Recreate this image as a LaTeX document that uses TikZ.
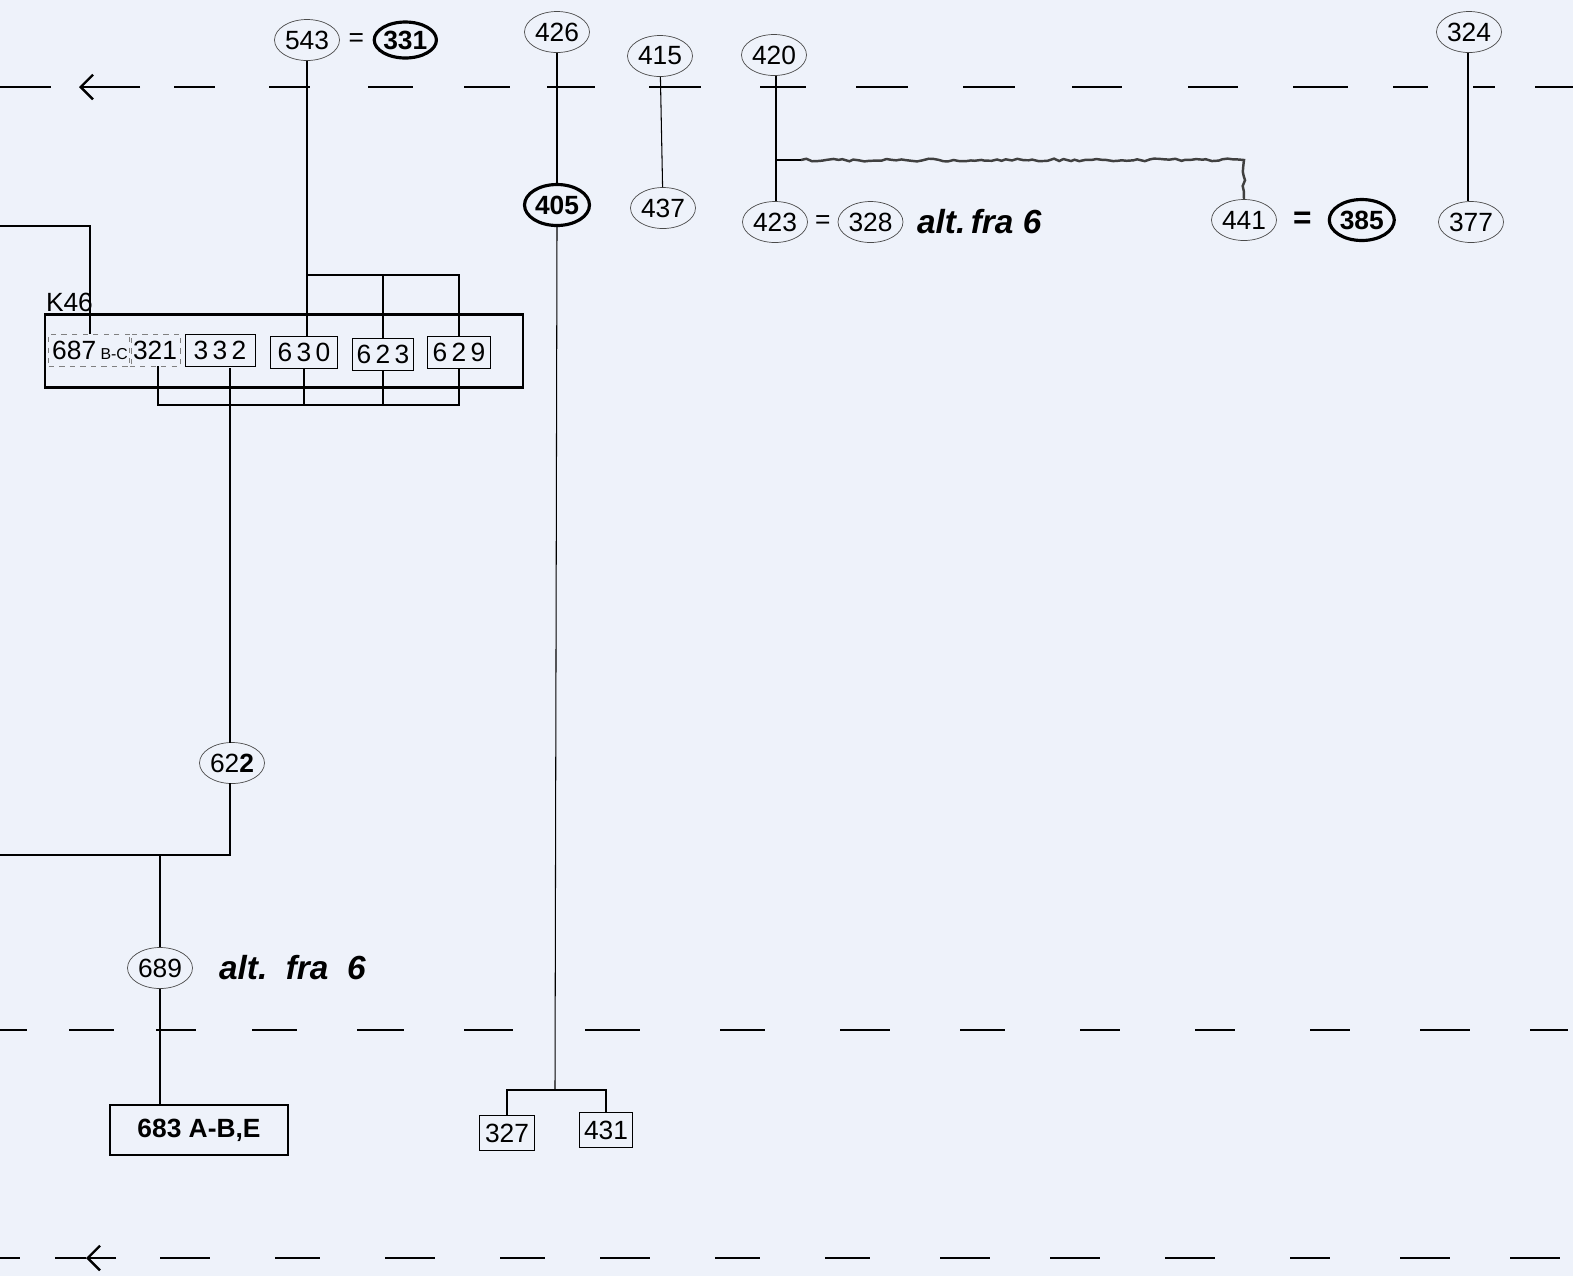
\documentclass[tikz,border=0pt]{standalone}
\usepackage{fontspec}
\setmainfont{Liberation Sans}
\usetikzlibrary{positioning, arrows.meta, shapes.geometric, decorations.pathmorphing}
\definecolor{paper}{HTML}{EEF2FA}
\definecolor{rimGrey}{HTML}{4a4a4a}

\tikzset{
  refnode/.style={draw=rimGrey, ellipse, minimum width=1.3cm, minimum height=0.82cm, inner sep=0pt},
  refbold/.style={refnode, draw=black, line width=1.8pt, font=\fontsize{15}{18}\selectfont\bfseries},
  partbox/.style={draw, rectangle, minimum height=0.64cm, inner sep=2pt},
  wire/.style={line width=0.6pt},
  dashbar/.style={line width=1.4pt},
  scribble/.style={line width=1.4pt, black!75, decorate, decoration={random steps, segment length=3pt, amplitude=0.8pt}},
  note/.style={font=\fontsize{19}{20}\selectfont\bfseries\itshape},
}

\begin{document}
\begin{tikzpicture}[x=0.02cm, y=-0.02cm, font=\fontsize{15}{18}\selectfont]
\fill[paper] (0,0) rectangle (1573,1276);
\useasboundingbox (0,0) rectangle (1573,1276);

% dashed bands
\foreach \a/\b in {0/51, 174/215, 269/310, 368/413, 464/510, 547/595, 649/701, 760/806, 856/908, 963/1015, 1072/1122, 1188/1238, 1293/1348, 1393/1428, 1473/1495, 1535/1573}
  \draw[dashbar] (\a,87) -- (\b,87);
\draw[dashbar, -{Straight Barb[length=7pt, width=14pt]}] (140,87) -- (79,87);
\foreach \a/\b in {0/27, 69/114, 156/196, 252/297, 357/404, 464/513, 585/640, 720/765, 840/890, 960/1005, 1080/1120, 1195/1235, 1310/1350, 1420/1470, 1530/1568}
  \draw[dashbar] (\a,1030) -- (\b,1030);
\foreach \a/\b in {0/20, 160/210, 275/320, 385/435, 500/545, 600/650, 715/760, 825/870, 940/990, 1050/1100, 1165/1215, 1290/1330, 1400/1450, 1510/1560}
  \draw[dashbar] (\a,1258) -- (\b,1258);
\draw[dashbar, -{Straight Barb[length=7pt, width=14pt]}] (116,1258) -- (86,1258);
\draw[dashbar] (86,1258) -- (55,1258);

% top references
\node[refnode] (n543) at (307,40) {543};
\node[right=0.05cm of n543] (eq543) {=};
\node[refbold, minimum width=1.2cm, minimum height=0.72cm, right=0.05cm of eq543] (n331) {331};
\node[refnode] (n426) at (557,32) {426};
\node[refbold] (n405) at (557,205) {405};
\node[refnode] (n415) at (660,56) {415};
\node[refnode] (n437) at (663,208) {437};
\node[refnode] (n420) at (774,55) {420};
\node[refnode] (n423) at (775,222) {423};
\node[right=0.02cm of n423] (eq423) {=};
\node[refnode, right=0.02cm of eq423] (n328) {328};
\node[note, right=0.15cm of n328] (alt328) {alt.\,fra 6};
\node[refnode] (n441) at (1244,220) {441};
\node[font=\fontsize{18}{18}\selectfont\bfseries, right=0.2cm of n441] (eq441) {=};
\node[refbold, right=0.2cm of eq441] (n385) {385};
\node[refnode] (n324) at (1469,32) {324};
\node[refnode] (n377) at (1471,222) {377};

% K46 unit
\node[draw, line width=1.3pt, minimum width=9.56cm, minimum height=1.46cm] (k46) at (284,351) {};
\node[anchor=south west, inner sep=1pt] at (k46.north west) {K46};
\node[partbox, draw=gray, dashed, minimum width=1.52cm] (n687) at (90,350) {687\,{\small B-C}};
\node[partbox, draw=gray, dashed, minimum width=0.9cm] (n321) at (155,350) {321};
\node[partbox, minimum width=1.4cm] (n332) at (220,350) {3\,3\,2};
\node[partbox, minimum width=1.34cm] (n630) at (304,352) {6\,3\,0};
\node[partbox, minimum width=1.22cm] (n623) at (383,354) {6\,2\,3};
\node[partbox, minimum width=1.26cm] (n629) at (459,352) {6\,2\,9};

% lower references
\node[refnode] (n622) at (232,763) {62\textbf{2}};
\node[refnode] (n689) at (160,968) {689};
\node[note, right=0.4cm of n689] (alt689) {alt.\ \ fra\ \ 6};
\node[partbox, line width=0.8pt, minimum width=3.56cm, minimum height=1cm, font=\fontsize{15}{18}\selectfont\bfseries] (n683) at (199,1130) {683 A-B,E};
\node[partbox, minimum width=1.1cm, minimum height=0.7cm] (n327) at (507,1133) {327};
\node[partbox, minimum width=1.06cm, minimum height=0.7cm] (n431) at (606,1130) {431};

% junctions
\coordinate (j630) at (307,275);
\coordinate (jbot) at (158,405);
\coordinate (j420) at (776,160);
\coordinate (j689) at (160,855);
\coordinate (j405) at (555,1090);

% wires
\draw[wire] (n543) -- (n543 |- n630.north);
\draw[wire] (j630) -| (n623.north);
\draw[wire] (j630) -| (n629.north);
\draw[wire] (n321.south -| jbot) -- (jbot) -| (n629.south);
\draw[wire] (n630.south) -- (n630.south |- jbot);
\draw[wire] (n623.south) -- (n623.south |- jbot);
\draw[wire] (0,226) -| (n687.north);
\draw[wire] (230,368) -- (230,743);
\draw[wire] (230,783) |- (0,855);
\draw[wire] (j689) -- (n689.north);
\draw[wire] (n689.south) -- (n689.south |- n683.north);
\draw[wire] (n426) -- (n405);
\draw[wire] (n405.south) -- (j405);
\draw[wire] (n327.north) |- (j405) -| (n431.north);
\draw[wire] (n415) -- (n437);
\draw[wire] (n420.south -| j420) -- (n423.north -| j420);
\draw[wire] (j420) -- +(25,0);
\draw[scribble] ([xshift=0.5cm]j420) -| (n441.north);
\draw[wire] (n324.south -| 1468,0) -- (n377.north -| 1468,0);
\end{tikzpicture}
\end{document}
